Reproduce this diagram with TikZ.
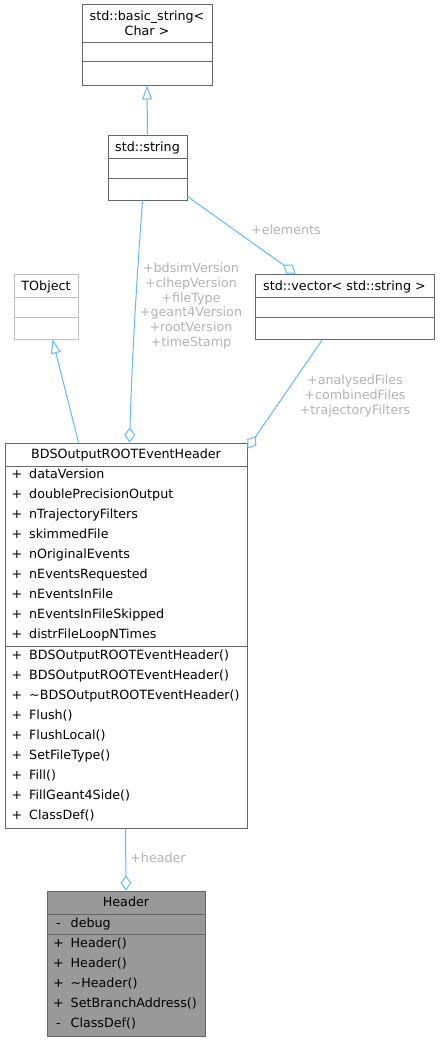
\documentclass[tikz,border=0pt]{standalone}
\usepackage{fontspec}
\setmainfont{DejaVu Sans}
\usetikzlibrary{arrows.meta}
\definecolor{edgeblue}{HTML}{63B8FF}
\definecolor{boxline}{HTML}{666666}
\definecolor{lightline}{HTML}{BFBFBF}
\definecolor{labgray}{HTML}{B2B2B2}
\definecolor{hdrfill}{HTML}{999999}
\newcommand\rowpub{\makebox[17.5pt][l]{\makebox[10.6pt][c]{+}}}
\newcommand\rowpriv{\makebox[17.5pt][l]{\makebox[10.6pt][c]{-}}}
\begin{document}
\begin{tikzpicture}[x=1pt,y=-1pt,
  cls/.style={draw=boxline, line width=1pt, inner sep=0, rectangle},
  divline/.style={draw=boxline, line width=1pt},
  txt/.style={font=\fontsize{12.7}{14.7}\selectfont, inner sep=0, anchor=base, yshift=-4.3pt},
  txtw/.style={txt, anchor=base west},
  elab/.style={font=\fontsize{12.7}{14.7}\selectfont, text=labgray, align=center, inner sep=0},
  conn/.style={draw=edgeblue, line width=1pt},
  inh/.style={conn, -{Triangle[open, length=14pt, width=10pt]}},
  agg/.style={conn, -{Diamond[open, length=15pt, width=11pt]}},
]
\useasboundingbox (0,0) rectangle (439,1041);

% class boxes
\node[cls, minimum width=130pt, minimum height=80pt] (bstring) at (147,45) {};
\node[cls, minimum width=79pt, minimum height=65pt] (string) at (147.5,167.5) {};
\node[cls, draw=lightline, minimum width=64pt, minimum height=65pt] (tobject) at (46,306.5) {};
\node[cls, minimum width=179pt, minimum height=65pt] (vector) at (344.5,306.5) {};
\node[cls, minimum width=242pt, minimum height=385pt] (main) at (126,635.5) {};
\node[cls, fill=hdrfill, minimum width=158pt, minimum height=145pt] (header) at (126,963.5) {};

% compartment dividers
\draw[divline] (82,43) -- (212,43) (82,62) -- (212,62);
\draw[divline] (108,158) -- (187,158) (108,178) -- (187,178);
\draw[divline, draw=lightline] (14,297) -- (78,297) (14,317) -- (78,317);
\draw[divline] (255,297) -- (434,297) (255,317) -- (434,317);
\draw[divline] (5,466) -- (247,466) (5,646) -- (247,646);
\draw[divline] (47,914) -- (205,914) (47,934) -- (205,934);

% titles
\node[txt] (tb1) at (147,16.7) {std::basic\_string<};
\node[txt] (tb2) at (147,31.7) {Char >};
\node[txt] (ts) at (147.5,147) {std::string};
\node[txt] (tt) at (46,286) {TObject};
\node[txt] (tv) at (344.5,286) {std::vector< std::string >};
\node[txt] (tm) at (126,454) {BDSOutputROOTEventHeader};
\node[txt] (th) at (126,902) {Header};

% main attributes
\foreach \t [count=\i from 0] in {dataVersion, doublePrecisionOutput, nTrajectoryFilters, skimmedFile, nOriginalEvents, nEventsRequested, nEventsInFile, nEventsInFileSkipped, distrFileLoopNTimes}
  \node[txtw] (a\i) at (11.5,{474+20*\i}) {\rowpub\t};
% main methods
\foreach \t [count=\i from 0] in {BDSOutputROOTEventHeader(), BDSOutputROOTEventHeader(), {\textasciitilde BDSOutputROOTEventHeader()}, Flush(), FlushLocal(), SetFileType(), Fill(), FillGeant4Side(), ClassDef()}
  \node[txtw] (m\i) at (11.5,{655+20*\i}) {\rowpub\t};

% header rows
\node[txtw] (h0) at (53,923) {\rowpriv debug};
\node[txtw] (h1) at (53,943) {\rowpub Header()};
\node[txtw] (h2) at (53,963) {\rowpub Header()};
\node[txtw] (h3) at (53,983) {\rowpub\textasciitilde Header()};
\node[txtw] (h4) at (53,1003) {\rowpub SetBranchAddress()};
\node[txtw] (h5) at (53,1023) {\rowpriv ClassDef()};

% connectors
\draw[inh] (string.north) -- (bstring.south);
\draw[inh] ([xshift=74pt]main.north west) -- ([xshift=39pt]tobject.south west);
\draw[conn, {Diamond[open, length=15pt, width=11pt]}-] ([xshift=125pt]main.north west) .. controls (133,330) and (139,250) .. ([xshift=35pt]string.south west);
\draw[agg] ([yshift=4pt]string.south east) -- ([xshift=41pt]vector.north west);
\draw[agg] ([xshift=68pt]vector.south west) -- ([yshift=-6pt]main.north east);
\draw[agg] ([xshift=121pt]main.south west) -- (header.north);

% connector labels
\node[elab] (lelem) at (286,230) {+elements};
\node[elab] (lstr) at (191,306) {+bdsimVersion\\+clhepVersion\\+fileType\\+geant4Version\\+rootVersion\\+timeStamp};
\node[elab] (lvec) at (355,396) {+analysedFiles\\+combinedFiles\\+trajectoryFilters};
\node[elab] (lhdr) at (158,858) {+header};
\end{tikzpicture}
\end{document}
